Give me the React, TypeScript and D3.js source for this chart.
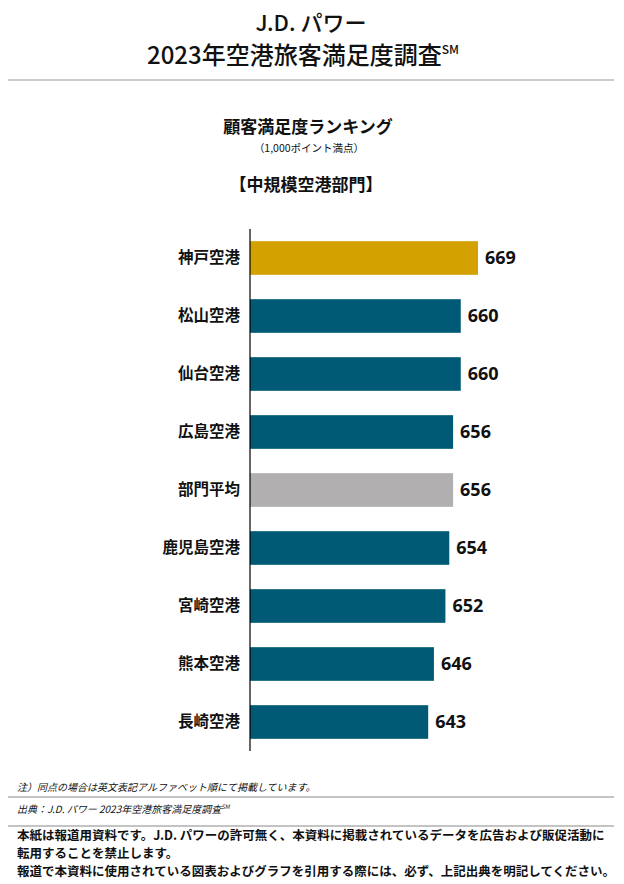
import React from "react";
import * as d3 from "d3";

const categories = ["神戸空港", "松山空港", "仙台空港", "広島空港", "部門平均", "鹿児島空港", "宮崎空港", "熊本空港", "長崎空港"];
const values = [669, 660, 660, 656, 656, 654, 652, 646, 643];
const kinds = ["top", "normal", "normal", "normal", "avg", "normal", "normal", "normal", "normal"];

const colorMap: Record<string, string> = { top: "#D4A200", normal: "#005A75", avg: "#B1AFAF" };
const JP = "'Noto Sans CJK JP', 'Noto Sans', sans-serif";
const NUM = "'Open Sans', 'Noto Sans', sans-serif";

export default function App() {
  const W = 624, H = 884;
  const x = d3.scaleLinear().domain([550, 669]).range([250, 478]);
  const y = d3.scaleBand<string>().domain(categories).range([229, 751]).paddingInner(0.42).paddingOuter(0.21);

  return (
    <svg width={W} height={H} style={{ position: "absolute", left: 0, top: 0, background: "#fff" }}>
      <rect width={W} height={H} fill="#fff" />
      <text x={311} y={31} textAnchor="middle" fontFamily={JP} fontSize={22} fontWeight={500} fill="#111">J.D. パワー</text>
      <text x={303} y={64} textAnchor="middle" fontFamily={JP} fontSize={24} fontWeight={500} fill="#111">
        2023年空港旅客満足度調査<tspan fontSize={12} dy={-10}>SM</tspan>
      </text>
      <line x1={8} x2={614} y1={80} y2={80} stroke="#999" strokeWidth={1.2} />

      <text x={308} y={133} textAnchor="middle" fontFamily={JP} fontSize={17} fontWeight={700} fill="#111">顧客満足度ランキング</text>
      <text x={309} y={152} textAnchor="middle" fontFamily={JP} fontSize={10.5} fill="#111">（1,000ポイント満点）</text>
      <text x={306} y={191} textAnchor="middle" fontFamily={JP} fontSize={17} fontWeight={700} fill="#111">【中規模空港部門】</text>

      {categories.map((c, i) => {
        const by = y(c)!;
        const bh = y.bandwidth();
        return (
          <g key={c}>
            <rect x={x(550)} y={by} width={x(values[i]) - x(550)} height={bh} fill={colorMap[kinds[i]]} />
            <text x={240} y={by + bh / 2} dy="0.35em" textAnchor="end" fontFamily={JP} fontSize={15.5} fontWeight={700} fill="#111">{c}</text>
            <text x={x(values[i]) + 7} y={by + bh / 2} dy="0.36em" fontFamily={NUM} fontSize={18} fontWeight={700} fill="#111">{values[i]}</text>
          </g>
        );
      })}
      <line x1={250} x2={250} y1={229} y2={751} stroke="#000" strokeWidth={1.2} />

      <text x={17} y={791} fontFamily={JP} fontSize={10} fill="#111" style={{ fontStyle: "italic" }}>
        注）同点の場合は英文表記アルファベット順にて掲載しています。
      </text>
      <line x1={8} x2={614} y1={797} y2={797} stroke="#888" strokeWidth={1} />
      <text x={17} y={813} fontFamily={JP} fontSize={10} fill="#111" style={{ fontStyle: "italic" }}>
        出典：J.D. パワー 2023年空港旅客満足度調査<tspan fontSize={6} dy={-4}>SM</tspan>
      </text>
      <line x1={8} x2={614} y1={826} y2={826} stroke="#888" strokeWidth={1} />
      <text x={17} y={840} fontFamily={JP} fontSize={12.5} fontWeight={700} fill="#111">本紙は報道用資料です。J.D. パワーの許可無く、本資料に掲載されているデータを広告および販促活動に</text>
      <text x={17} y={858} fontFamily={JP} fontSize={12.5} fontWeight={700} fill="#111">転用することを禁止します。</text>
      <text x={17} y={876} fontFamily={JP} fontSize={12.5} fontWeight={700} fill="#111">報道で本資料に使用されている図表およびグラフを引用する際には、必ず、上記出典を明記してください。</text>
    </svg>
  );
}
